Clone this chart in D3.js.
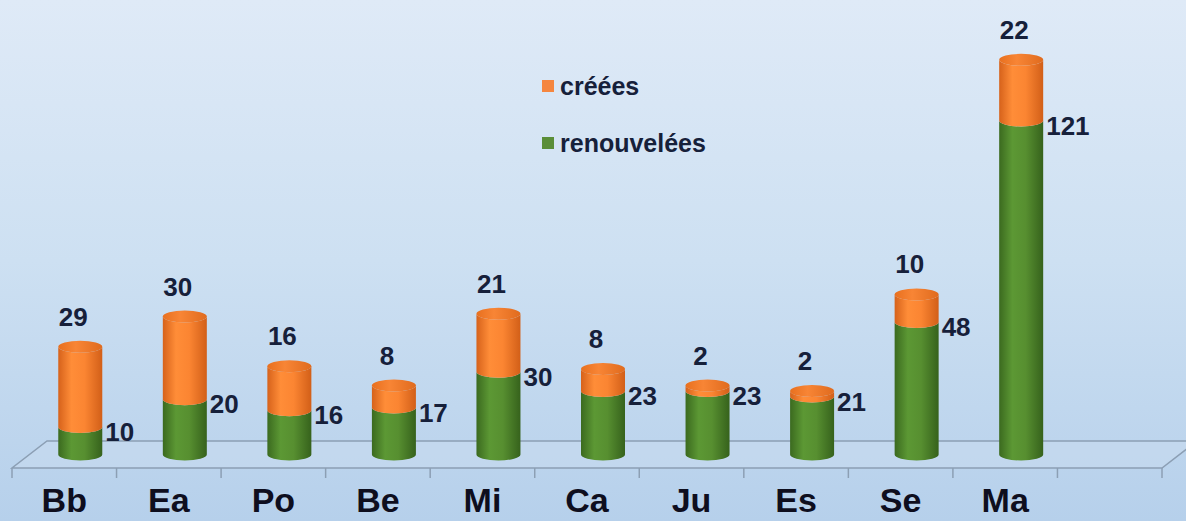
<!DOCTYPE html>
<html>
<head>
<meta charset="utf-8">
<script src="https://cdn.jsdelivr.net/npm/d3@7"></script>
<style>
  body { margin: 0; padding: 0; overflow: hidden; }
  svg { display: block; }
</style>
</head>
<body>
<div id="chart"></div>
<script>
var categories = ["Bb", "Ea", "Po", "Be", "Mi", "Ca", "Ju", "Es", "Se", "Ma"];
var renouvelees = [10, 20, 16, 17, 30, 23, 23, 21, 48, 121];
var creees = [29, 30, 16, 8, 21, 8, 2, 2, 10, 22];
var seriesNames = ["créées", "renouvelées"];

var width = 1186,
    height = 521;

// floor of the 3D plot
var floor = { left: 12, right: 1162, front: 468, dx: 35, dy: 27 };

var svg = d3.select("#chart").append("svg")
    .attr("width", width)
    .attr("height", height);

var defs = svg.append("defs");

var bg = defs.append("linearGradient").attr("id", "bg")
    .attr("x1", 0).attr("y1", 0).attr("x2", 0).attr("y2", 1);
bg.append("stop").attr("offset", "0%").attr("stop-color", "#dfeaf7");
bg.append("stop").attr("offset", "50%").attr("stop-color", "#cde0f2");
bg.append("stop").attr("offset", "100%").attr("stop-color", "#b6d0eb");

function hGrad(id, stops) {
    var g = defs.append("linearGradient").attr("id", id)
        .attr("x1", 0).attr("y1", 0).attr("x2", 1).attr("y2", 0);
    stops.forEach(function (s) {
        g.append("stop").attr("offset", s[0]).attr("stop-color", s[1]);
    });
}
hGrad("gGreen", [["0%", "#3b6a1f"], ["30%", "#5c9834"], ["60%", "#578f30"], ["100%", "#36621c"]]);
hGrad("gOrange", [["0%", "#d6621b"], ["30%", "#ff8d38"], ["60%", "#fb8532"], ["100%", "#d25f18"]]);
hGrad("gCap", [["0%", "#e8701f"], ["40%", "#f88535"], ["100%", "#e06b1e"]]);

svg.append("rect")
    .attr("width", width)
    .attr("height", height)
    .attr("fill", "url(#bg)");

var x = d3.scaleBand()
    .domain(categories.concat([""]))
    .range([floor.left, floor.right])
    .padding(0);

var baseY = floor.front - floor.dy / 2;
var y = d3.scaleLinear()
    .domain([0, 150])
    .range([baseY, baseY - 150 * 2.76]);

// floor plane
svg.append("path")
    .attr("d", "M" + floor.left + "," + floor.front +
        "L" + floor.right + "," + floor.front +
        "L" + (floor.right + floor.dx) + "," + (floor.front - floor.dy) +
        "L" + (floor.left + floor.dx) + "," + (floor.front - floor.dy) + "Z")
    .attr("fill", "#cadcef")
    .attr("fill-opacity", 0.5)
    .attr("stroke", "#8c9fb4")
    .attr("stroke-width", 1.5);

// ticks under the front edge
svg.append("g")
    .selectAll("line")
    .data(x.domain().concat(["end"]))
    .enter().append("line")
    .attr("x1", function (d, i) { return floor.left + i * x.bandwidth(); })
    .attr("x2", function (d, i) { return floor.left + i * x.bandwidth(); })
    .attr("y1", floor.front)
    .attr("y2", floor.front + 10)
    .attr("stroke", "#8c9fb4")
    .attr("stroke-width", 1.5);

var data = categories.map(function (c, i) {
    return { name: c, r: renouvelees[i], c: creees[i] };
});

var rx = 22, ry = 6;

function segment(cx, y0, y1) {
    // cylinder body from y0 (bottom) to y1 (top), front arcs at both ends
    return "M" + (cx - rx) + "," + y1 +
        "L" + (cx - rx) + "," + y0 +
        "A" + rx + "," + ry + " 0 0 0 " + (cx + rx) + "," + y0 +
        "L" + (cx + rx) + "," + y1 +
        "A" + rx + "," + ry + " 0 0 1 " + (cx - rx) + "," + y1 + "Z";
}

var cols = svg.selectAll(".col")
    .data(data)
    .enter().append("g")
    .attr("class", "col");

function cxOf(d) { return x(d.name) + x.bandwidth() / 2 + 16; }

cols.append("path")
    .attr("d", function (d) { return segment(cxOf(d), y(0), y(d.r)); })
    .attr("fill", "url(#gGreen)");

cols.append("path")
    .attr("d", function (d) { return segment(cxOf(d), y(d.r), y(d.r + d.c)); })
    .attr("fill", "url(#gOrange)");

cols.append("ellipse")
    .attr("cx", cxOf)
    .attr("cy", function (d) { return y(d.r + d.c); })
    .attr("rx", rx)
    .attr("ry", ry)
    .attr("fill", "url(#gCap)");

var textColor = "#16203a";

cols.append("text")
    .attr("x", function (d) { return cxOf(d) - 7; })
    .attr("y", function (d) { return y(d.r + d.c) - 21; })
    .attr("text-anchor", "middle")
    .style("font", "bold 26px 'Liberation Sans', Arial, sans-serif")
    .attr("fill", textColor)
    .text(function (d) { return d.c; });

cols.append("text")
    .attr("x", function (d) { return cxOf(d) + rx + 3; })
    .attr("y", function (d) { return y(d.r) + 14; })
    .attr("text-anchor", "start")
    .style("font", "bold 26px 'Liberation Sans', Arial, sans-serif")
    .attr("fill", textColor)
    .text(function (d) { return d.r; });

// category labels
svg.append("g")
    .selectAll("text")
    .data(categories)
    .enter().append("text")
    .attr("x", function (d) { return x(d) + x.bandwidth() / 2; })
    .attr("y", 512)
    .attr("text-anchor", "middle")
    .style("font", "bold 34px 'Liberation Sans', Arial, sans-serif")
    .attr("fill", "#0e0e1e")
    .text(function (d) { return d; });

// legend
var legendColors = ["#f5863f", "#5a8e38"];
var legend = svg.append("g")
    .selectAll(".legend")
    .data(seriesNames)
    .enter().append("g")
    .attr("class", "legend")
    .attr("transform", function (d, i) { return "translate(542," + (80 + i * 57) + ")"; });

legend.append("rect")
    .attr("width", 12)
    .attr("height", 12)
    .attr("fill", function (d, i) { return legendColors[i]; });

legend.append("text")
    .attr("x", 18)
    .attr("y", 15)
    .style("font", "bold 25px 'Liberation Sans', Arial, sans-serif")
    .attr("fill", textColor)
    .text(function (d) { return d; });
</script>
</body>
</html>
